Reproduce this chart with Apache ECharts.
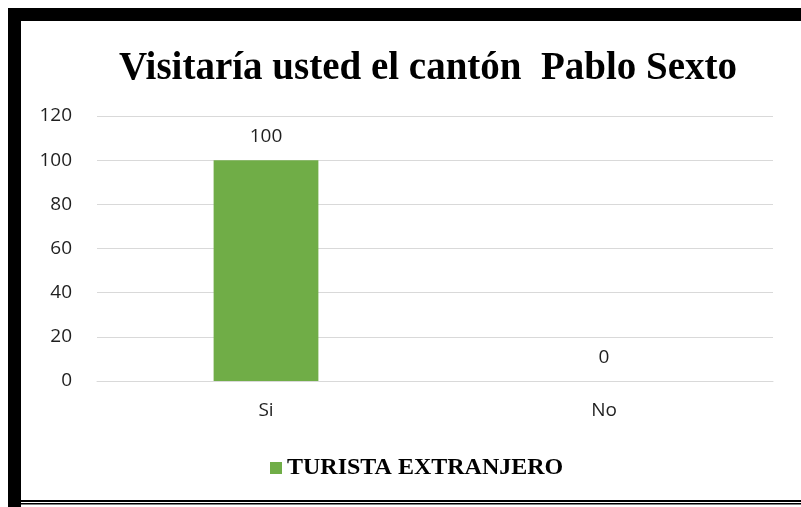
<!DOCTYPE html>
<html>
<head>
<meta charset="utf-8">
<script src="https://cdn.jsdelivr.net/npm/echarts@6/dist/echarts.min.js"></script>
<style>
  html, body { margin: 0; padding: 0; background: #ffffff; }
  #main { width: 801px; height: 507px; }
</style>
</head>
<body>
<div id="main"></div>
<script>
// datos
const categorias = ['Si', 'No'];
const valores = [100, 0];
const serieNombre = 'TURISTA EXTRANJERO';
const titulo = 'Visitaría usted el cantón  Pablo Sexto';

const chart = echarts.init(document.getElementById('main'));

const option = {
  backgroundColor: '#FFFFFF',
  color: ['#70AD47'],
  title: {
    text: titulo,
    left: 423,
    textAlign: 'center',
    top: 44,
    textStyle: {
      fontFamily: 'Liberation Serif',
      fontWeight: 'bold',
      fontSize: 39,
      color: '#000000'
    }
  },
  legend: {
    top: 451,
    left: 265,
    itemWidth: 12,
    itemHeight: 12,
    itemGap: 7,
    icon: 'rect',
    textStyle: {
      fontFamily: 'Liberation Serif',
      fontWeight: 'bold',
      fontSize: 24,
      color: '#000000'
    },
    data: [serieNombre]
  },
  grid: {
    left: 97,
    right: 28,
    top: 116,
    bottom: 126
  },
  xAxis: {
    type: 'category',
    data: categorias,
    axisLine: { lineStyle: { color: '#D9D9D9', width: 1 } },
    axisTick: { show: false },
    axisLabel: {
      margin: 20,
      fontFamily: 'Open Sans',
      fontSize: 19,
      color: '#1f1f1f'
    }
  },
  yAxis: {
    type: 'value',
    min: 0,
    max: 120,
    interval: 20,
    axisLine: { show: false },
    axisTick: { show: false },
    splitLine: { lineStyle: { color: '#D9D9D9', width: 1 } },
    axisLabel: {
      margin: 25,
      fontFamily: 'Open Sans',
      fontSize: 19,
      color: '#1f1f1f'
    }
  },
  series: [{
    name: serieNombre,
    type: 'bar',
    barWidth: '31%',
    data: valores,
    label: {
      show: true,
      position: 'top',
      distance: 14,
      fontFamily: 'Open Sans',
      fontSize: 19,
      color: '#1f1f1f'
    }
  }],
  graphic: [
    // marco negro del recuadro
    { type: 'rect', shape: { x: 8, y: 8, width: 793, height: 13 }, style: { fill: '#000' } },
    { type: 'rect', shape: { x: 8, y: 8, width: 13, height: 499 }, style: { fill: '#000' } },
    { type: 'rect', shape: { x: 20, y: 500, width: 781, height: 2 }, style: { fill: '#000' } },
    { type: 'rect', shape: { x: 20, y: 503, width: 781, height: 1.5 }, style: { fill: '#000' } }
  ]
};

chart.setOption(option);
</script>
</body>
</html>
